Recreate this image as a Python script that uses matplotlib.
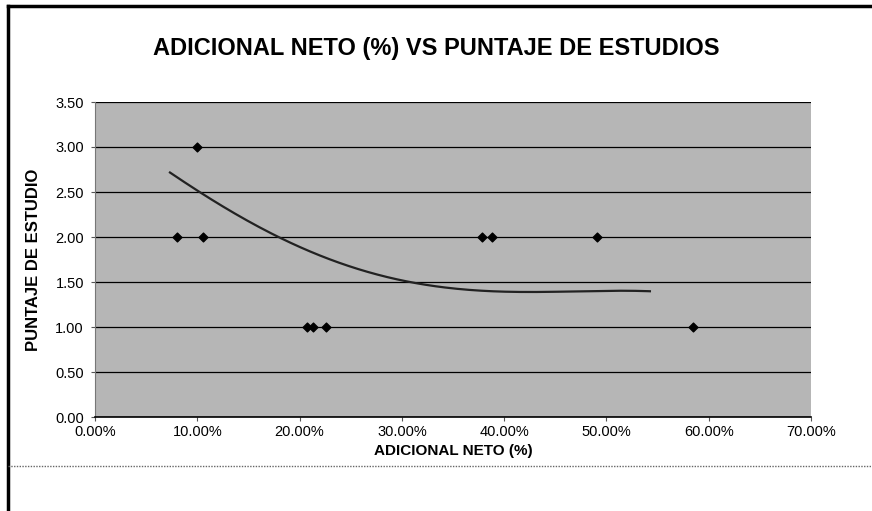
import numpy as np
import matplotlib
matplotlib.use("Agg")
import matplotlib.pyplot as plt
from matplotlib.lines import Line2D

plt.rcParams['font.family'] = ['Liberation Sans', 'DejaVu Sans']

# Data (fraction of 1 for x)
adicional_neto = [0.080, 0.100, 0.106, 0.207, 0.213, 0.226, 0.378, 0.388, 0.491, 0.585]
puntaje = [2.00, 3.00, 2.00, 1.00, 1.00, 1.00, 2.00, 2.00, 2.00, 1.00]
# trendline
trend_x = [0.0733, 0.0958, 0.1447, 0.1779, 0.2102, 0.2590, 0.2913, 0.3372, 0.3861, 0.4350, 0.4839, 0.5425]
trend_y = [2.744, 2.50, 2.22, 2.02, 1.856, 1.633, 1.511, 1.444, 1.422, 1.389, 1.389, 1.40]
x_ticks = [0.0, 0.1, 0.2, 0.3, 0.4, 0.5, 0.6, 0.7]
y_ticks = [0.0, 0.5, 1.0, 1.5, 2.0, 2.5, 3.0, 3.5]

fig = plt.figure(figsize=(8.72, 5.11), dpi=100)
ax = fig.add_axes([95/872, 1-417/511, (811-95)/872, (417-102)/511])
ax.set_facecolor('#b6b6b6')

ax.set_xlim(0, 0.7)
ax.set_ylim(0, 3.5)
ax.set_xticks(x_ticks)
ax.set_xticklabels([f"{v*100:.2f}%" for v in x_ticks], fontsize=10.5)
ax.set_yticks(y_ticks)
ax.set_yticklabels([f"{v:.2f}" for v in y_ticks], fontsize=10.5)
ax.grid(axis='y', color='black', linewidth=0.9)
ax.set_axisbelow(True)
ax.tick_params(axis='x', length=3, width=0.8, color='#555555', pad=3)
ax.tick_params(axis='y', length=3, width=0.8, color='#555555', pad=5)

for s in ['top', 'right']:
    ax.spines[s].set_visible(False)
ax.spines['left'].set_color('#777777')
ax.spines['left'].set_linewidth(0.8)
ax.spines['bottom'].set_color('black')
ax.spines['bottom'].set_linewidth(1.2)

# smooth the traced trendline
coef = np.polyfit(trend_x, trend_y, 4)
xt = np.linspace(trend_x[0], trend_x[-1], 200)
ax.plot(xt, np.polyval(coef, xt), color='#222222', linewidth=1.6, zorder=3)

ax.scatter(adicional_neto, puntaje, marker='D', s=20, color='black', zorder=4)

ax.set_xlabel('ADICIONAL NETO (%)', fontsize=11, fontweight='bold', labelpad=3)
ax.set_ylabel('PUNTAJE DE ESTUDIO', fontsize=12, fontweight='bold', labelpad=10)
fig.text(0.5, 1-48/511, 'ADICIONAL NETO (%) VS PUNTAJE DE ESTUDIOS',
         ha='center', va='center', fontsize=17, fontweight='bold')

# chart frame lines
fig.add_artist(Line2D([8/872, 1.0], [1-6/511, 1-6/511], color='black', linewidth=2.5))
fig.add_artist(Line2D([8/872, 8/872], [0.0, 1-6/511], color='black', linewidth=2.5))
fig.add_artist(Line2D([8/872, 1.0], [1-466/511, 1-466/511], color='#666666', linewidth=1.0, linestyle=(0, (1, 1))))

fig.savefig('out.png', dpi=100)
